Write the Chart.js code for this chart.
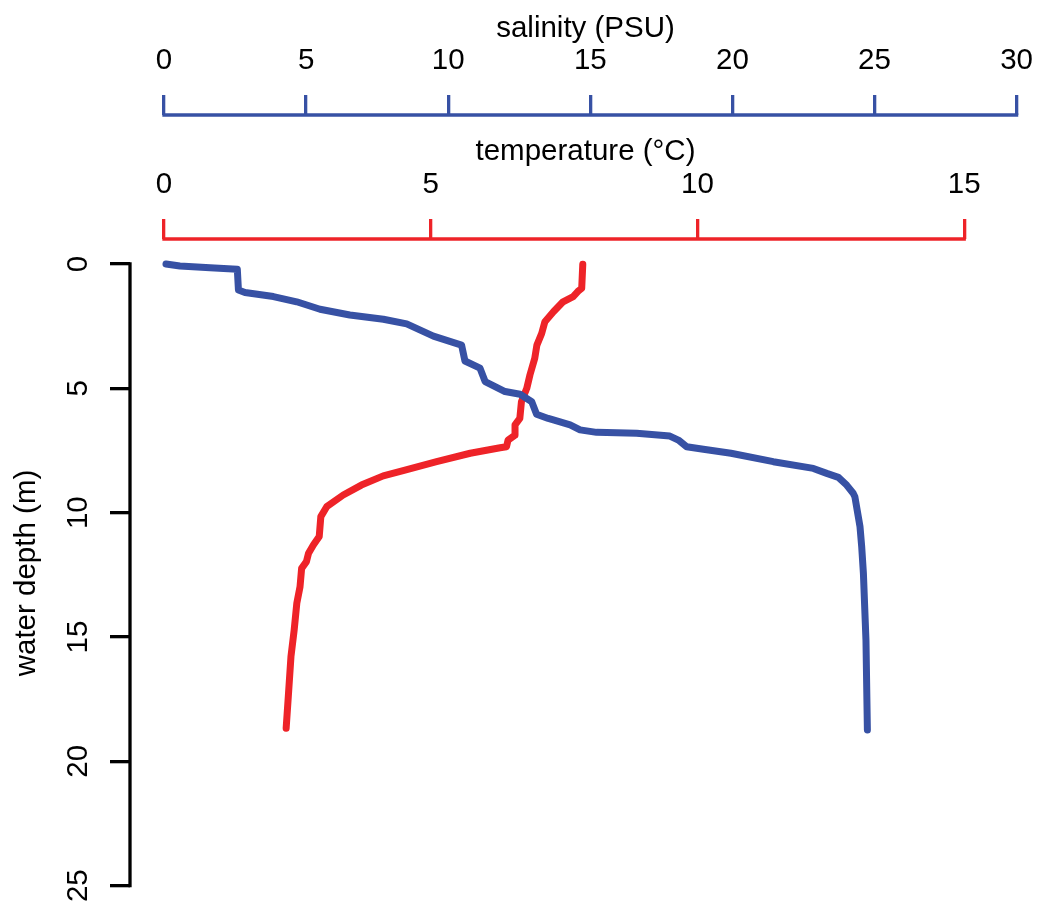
<!DOCTYPE html>
<html>
<head>
<meta charset="utf-8">
<script src="https://cdn.jsdelivr.net/npm/chart.js@4"></script>
<style>
  html, body { margin: 0; padding: 0; background: #fff; }
  #wrap { width: 1041px; height: 907px; }
</style>
</head>
<body>
<div id="wrap"><canvas id="profile"></canvas></div>
<script>
// CTD profile: salinity and temperature against water depth
var salDepth = [0.00, 0.08, 0.15, 0.21, 1.05, 1.15, 1.31, 1.52, 1.82, 2.05, 2.22, 2.41, 2.90, 3.26, 3.90, 4.19,
  4.73, 5.13, 5.24, 5.54, 6.04, 6.21, 6.27, 6.47, 6.67, 6.77, 6.81, 6.92, 7.08, 7.35, 7.45, 7.61, 7.95, 8.22,
  8.42, 8.58, 8.89, 9.22, 9.36, 10.16, 10.56, 11.37, 12.44, 15.12, 18.74]
var salValue = [0.07, 0.56, 1.62, 2.58, 2.62, 2.85, 3.85, 4.67, 5.49, 6.54, 7.72, 8.54, 9.48, 10.47, 10.59, 11.12,
  11.30, 12.00, 12.53, 12.94, 13.11, 13.52, 13.70, 14.29, 14.64, 15.22, 16.63, 17.80, 18.10, 18.39, 18.98, 19.95, 21.44, 22.85,
  23.32, 23.73, 24.02, 24.25, 24.31, 24.43, 24.49, 24.55, 24.61, 24.70, 24.75]

var tempDepth = [0.01, 0.98, 1.10, 1.31, 1.52, 1.92, 2.32, 2.79, 3.26, 3.79, 4.46, 5.00, 5.54, 6.21, 6.47, 6.88, 7.08,
  7.35, 7.39, 7.61, 7.95, 8.30, 8.52, 8.89, 9.29, 9.76, 10.16, 10.96, 11.30, 11.63, 11.97, 12.24, 12.98, 13.64,
  14.72, 15.79, 17.40, 18.67]
var tempValue = [7.85, 7.83, 7.76, 7.67, 7.48, 7.30, 7.14, 7.08, 6.99, 6.95, 6.86, 6.80, 6.70, 6.67, 6.58, 6.58, 6.45,
  6.42, 6.30, 5.74, 5.11, 4.50, 4.11, 3.70, 3.36, 3.05, 2.94, 2.91, 2.80, 2.71, 2.67, 2.58, 2.55, 2.49,
  2.44, 2.38, 2.33, 2.29]

var salTicks = [0, 5, 10, 15, 20, 25, 30]
var tempTicks = [0, 5, 10, 15]
var depthTicks = [0, 5, 10, 15, 20, 25]

var blue = '#3751a4'
var red = '#ee2328'
var font = { family: 'Liberation Sans, Arial, Helvetica, sans-serif', size: 29.5 }

function points(xs, ys) {
  return xs.map((x, i) => ({ x: x, y: ys[i] }))
}

function setTicks(values) {
  return scale => { scale.ticks = values.map(v => ({ value: v })) }
}

function setSize(prop, size) {
  return scale => {
    scale[prop] = size
    scale.paddingLeft = 0
    scale.paddingRight = 0
    scale.paddingTop = 0
    scale.paddingBottom = 0
  }
}

// R style axis line, only from first to last tick
var axisLines = {
  id: 'axisLines',
  afterDraw(chart) {
    var ctx = chart.ctx
    ctx.save()
    ctx.lineWidth = 3.3
    ctx.lineCap = 'square'
    ;['xSal', 'xTemp'].forEach(id => {
      var s = chart.scales[id]
      var t = s.ticks
      ctx.strokeStyle = s.options.grid.color
      ctx.beginPath()
      ctx.moveTo(s.getPixelForValue(t[0].value), s.bottom)
      ctx.lineTo(s.getPixelForValue(t[t.length - 1].value), s.bottom)
      ctx.stroke()
    })
    var y = chart.scales.y
    var yt = y.ticks
    ctx.strokeStyle = '#000'
    ctx.beginPath()
    ctx.moveTo(y.right, y.getPixelForValue(yt[0].value))
    ctx.lineTo(y.right, y.getPixelForValue(yt[yt.length - 1].value))
    ctx.stroke()
    ctx.restore()
  }
}

new Chart(document.getElementById('profile'), {
  type: 'scatter',
  data: {
    datasets: [{
      label: 'salinity',
      data: points(salValue, salDepth),
      xAxisID: 'xSal',
      showLine: true,
      borderColor: blue,
      borderWidth: 7,
      borderCapStyle: 'round',
      borderJoinStyle: 'round',
      pointRadius: 0
    }, {
      label: 'temperature',
      data: points(tempValue, tempDepth),
      xAxisID: 'xTemp',
      showLine: true,
      borderColor: red,
      borderWidth: 7,
      borderCapStyle: 'round',
      borderJoinStyle: 'round',
      pointRadius: 0
    }]
  },
  options: {
    responsive: true,
    maintainAspectRatio: false,
    animation: false,
    layout: { padding: { left: 0, right: 0, top: 0, bottom: 0 } },
    plugins: { legend: { display: false }, tooltip: { enabled: false } },
    scales: {
      xSal: {
        type: 'linear',
        position: 'top',
        weight: 1,
        min: -1.196,
        max: 30.859,
        afterBuildTicks: setTicks(salTicks),
        afterFit: setSize('height', 115),
        border: { display: false },
        grid: { drawOnChartArea: false, tickLength: 20, color: blue, lineWidth: 3.3 },
        ticks: { font: font, color: '#000', padding: 16, maxRotation: 0, autoSkip: false, callback: v => String(v) },
        title: { display: true, text: 'salinity (PSU)', font: font, color: '#000', padding: { top: 11, bottom: 0 } }
      },
      xTemp: {
        type: 'linear',
        position: 'top',
        weight: 0,
        min: -0.637,
        max: 16.439,
        afterBuildTicks: setTicks(tempTicks),
        afterFit: setSize('height', 124),
        border: { display: false },
        grid: { drawOnChartArea: false, tickLength: 20, color: red, lineWidth: 3.3 },
        ticks: { font: font, color: '#000', padding: 16, maxRotation: 0, autoSkip: false, callback: v => String(v) },
        title: { display: true, text: 'temperature (°C)', font: font, color: '#000', padding: { top: 19, bottom: 0 } }
      },
      y: {
        type: 'linear',
        position: 'left',
        reverse: true,
        min: -1.005,
        max: 25.857,
        afterBuildTicks: setTicks(depthTicks),
        afterFit: setSize('width', 130),
        border: { display: false },
        grid: { drawOnChartArea: false, tickLength: 20, color: '#000', lineWidth: 3.3 },
        ticks: { font: font, color: '#000', padding: 15, minRotation: 90, maxRotation: 90, crossAlign: 'center', autoSkip: false, callback: v => String(v) },
        title: { display: true, text: 'water depth (m)', font: font, color: '#000', padding: { top: 9, bottom: 0 } }
      }
    }
  },
  plugins: [axisLines]
})
</script>
</body>
</html>
